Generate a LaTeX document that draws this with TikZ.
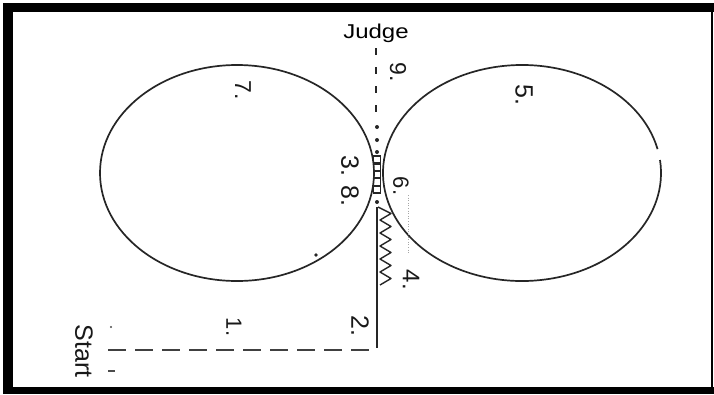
\documentclass[tikz,border=0pt]{standalone}
\usepackage{fontspec}
\setmainfont{Liberation Sans}
\newcommand\lblsize[1]{\fontsize{#1}{#1}\selectfont}
\begin{document}
\begin{tikzpicture}[x=1pt,y=1pt,
  lbl/.style={inner sep=0pt, anchor=center, rotate=-90, text=black!90},
  track/.style={line width=1.7pt, black!85},
  dashtrack/.style={line width=2.2pt, black!85, dash pattern=on 7pt off 12pt},
  startline/.style={line width=1.5pt, black!75, dash pattern=on 18pt off 9pt},
  dotmark/.style={fill=black!85},
  faint/.style={line width=0.6pt, black!35, dotted}
  ]
\useasboundingbox (0,0) rectangle (714,-394);
\fill[white] (0,0) rectangle (714,-394);
% frame
\fill[black] (3,-3) rectangle (714,-12);
\fill[black] (3,-3) rectangle (13,-394);
\fill[black] (3,-387) rectangle (714,-394);
\fill[black] (710.5,-3) rectangle (713,-394);

% ellipses
\draw[track] (237,-173) ellipse [x radius=137pt, y radius=108pt];
\draw[track] ([shift={(12.8:139pt and 108pt)}]522,-173)
   arc[start angle=12.8, end angle=366.9, x radius=139pt, y radius=108pt];

% judge line
\coordinate (jtop) at (376,-48);
\coordinate (jbot) at (376,-122);
\draw[dashtrack] (jtop) -- (jbot);
\foreach \yy in {127,140,152,202}
  \fill[dotmark] (377,-\yy) circle (2pt);
% ladder
\draw[line width=1.1pt, black!85] (373.5,-156) rectangle (380.5,-193);
\foreach \k in {1,...,4}
  \draw[line width=2.2pt, black!85] (373.5,{-156-7.4*\k}) -- (380.5,{-156-7.4*\k});
% main straight
\coordinate (stop) at (377,-207);
\coordinate (sbot) at (377,-348);
\draw[line width=2pt, black!85] (stop) -- (sbot);
% zigzag
\draw[line width=1.4pt, black!85, line join=round] (378,-207)
  \foreach \k in {0,...,5}{ -- (391,{-213.5-13*\k}) -- (380,{-220-13*\k}) };
% faint dotted line
\coordinate (fa) at (408,-195);
\coordinate (fb) at (408,-254);
\draw[faint] (fa) -- (fb);
% start dashed line
\coordinate (sa) at (108,-350);
\coordinate (sb) at (369,-350);
\draw[startline] (sa) -- (sb);
% small marks
\fill[black!70] (111,-327) circle (1.2pt);
\draw[line width=1.2pt, black!70] (108,-371) -- (115,-371);
\fill[black!85] (316,-255) circle (1.8pt);

% labels
\node[inner sep=0pt, xscale=1.2] (judge) at (376,-33) {\lblsize{20}Judge};
\node[lbl] (l9) at (398,-72) {\lblsize{23}9.};
\node[lbl] (l7) at (243,-90) {\lblsize{23}7.};
\node[lbl] (l5) at (524,-95) {\lblsize{25}5.};
\node[lbl] (l38) at (350,-181) {\lblsize{25}3. 8.};
\node[lbl] (l6) at (401,-186) {\lblsize{22}6.};
\node[lbl] (l4) at (411,-280) {\lblsize{24}4.};
\node[lbl] (l2) at (360,-326) {\lblsize{25}2.};
\node[lbl] (l1) at (234,-327) {\lblsize{22}1.};
\node[lbl] (start) at (84,-351) {\lblsize{25}Start};
\end{tikzpicture}
\end{document}
